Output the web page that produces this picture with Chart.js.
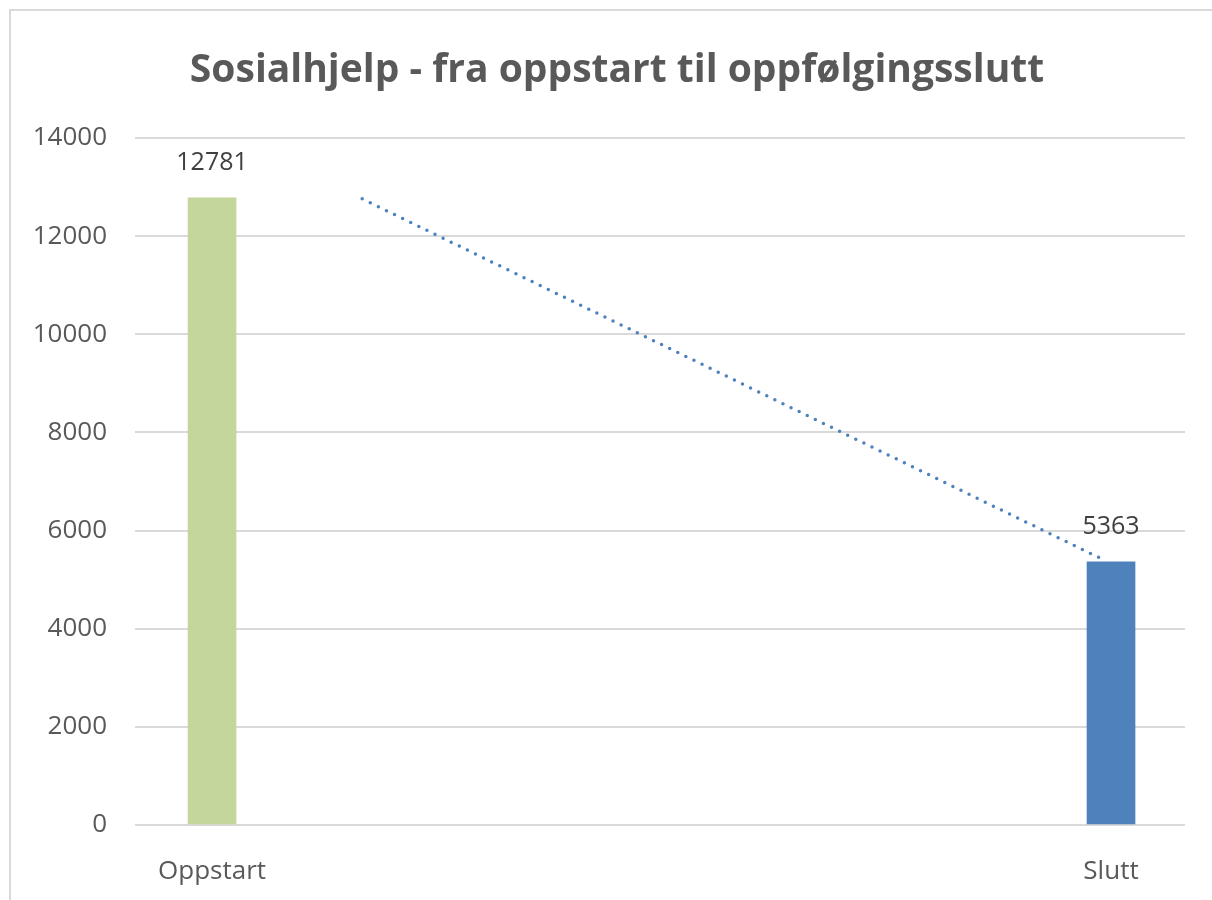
<!DOCTYPE html>
<html>
<head>
<meta charset="utf-8">
<script src="https://cdn.jsdelivr.net/npm/chart.js@4.4.1/dist/chart.umd.min.js"></script>
<style>
    html, body { margin: 0; padding: 0; background: #fff; overflow: hidden; }
    #frame { position: absolute; left: 9px; top: 9px; width: 1400px; height: 1100px;
             border-top: 2px solid #d9d9d9; border-left: 2px solid #d9d9d9; }
    #wrap { position: absolute; left: 0; top: 0; width: 1212px; height: 900px; }
</style>
</head>
<body>
<div id="frame"></div>
<div id="wrap"><canvas id="chart"></canvas></div>
<script>
const chartTitle = 'Sosialhjelp - fra oppstart til oppfølgingsslutt';
const categories = ['Oppstart', 'Slutt'];
const values = [12781, 5363];
const barColors = ['#c3d69b', '#4f81bd'];
// trend line: [x position in category units, value]
const trendX = [0.167, 0.99];
const trendY = [12760, 5420];
const yTicks = [0, 2000, 4000, 6000, 8000, 10000, 12000, 14000];

const textFont = '"Open Sans", "Liberation Sans", sans-serif';

// title sits a little right of the canvas centre, like in the excel original
const titleText = {
    id: 'titleText',
    afterDraw(chart) {
        const ctx = chart.ctx;
        ctx.save();
        ctx.font = 'bold 39px ' + textFont;
        ctx.fillStyle = '#595959';
        ctx.textAlign = 'center';
        ctx.textBaseline = 'middle';
        ctx.fillText(chartTitle, 617, 71);
        ctx.restore();
    }
};

const valueLabels = {
    id: 'valueLabels',
    afterDatasetsDraw(chart) {
        const ctx = chart.ctx;
        const meta = chart.getDatasetMeta(0);
        ctx.save();
        ctx.font = '25px ' + textFont;
        ctx.fillStyle = '#404040';
        ctx.textAlign = 'center';
        ctx.textBaseline = 'middle';
        meta.data.forEach((bar, i) => {
            ctx.fillText(String(values[i]), bar.x, bar.y - 35);
        });
        ctx.restore();
    }
};

new Chart(document.getElementById('chart'), {
    type: 'bar',
    data: {
        datasets: [{
            data: values.map((v, i) => ({ x: i, y: v })),
            backgroundColor: barColors,
            barThickness: 48,
            order: 2
        }, {
            type: 'line',
            data: trendX.map((x, i) => ({ x: x, y: trendY[i] })),
            borderColor: '#4f81bd',
            borderWidth: 3.5,
            borderDash: [0, 9],
            borderCapStyle: 'round',
            pointRadius: 0,
            fill: false,
            order: 1
        }]
    },
    options: {
        responsive: true,
        maintainAspectRatio: false,
        animation: false,
        layout: { padding: { left: 0, right: 27, top: 138, bottom: 0 } },
        plugins: {
            legend: { display: false },
            tooltip: { enabled: false },
            title: { display: false }
        },
        scales: {
            x: {
                type: 'linear',
                offset: false,
                min: -0.0857,
                max: 1.0823,
                grid: { display: false },
                border: { display: false },
                afterBuildTicks: (scale) => { scale.ticks = categories.map((c, i) => ({ value: i })); },
                afterFit: (scale) => { scale.height = 75; },
                ticks: {
                    callback: (v) => categories[v],
                    color: '#595959',
                    padding: 23,
                    maxRotation: 0,
                    font: { family: textFont, size: 26 }
                }
            },
            y: {
                min: 0,
                max: 14000,
                afterBuildTicks: (scale) => { scale.ticks = yTicks.map(v => ({ value: v })); },
                afterFit: (scale) => { scale.width = 135; },
                grid: { color: '#d9d9d9', lineWidth: 2, drawTicks: false },
                border: { display: false },
                ticks: {
                    callback: (v) => String(v),
                    color: '#595959',
                    padding: 28,
                    font: { family: textFont, size: 26 }
                }
            }
        }
    },
    plugins: [valueLabels, titleText]
});
</script>
</body>
</html>
